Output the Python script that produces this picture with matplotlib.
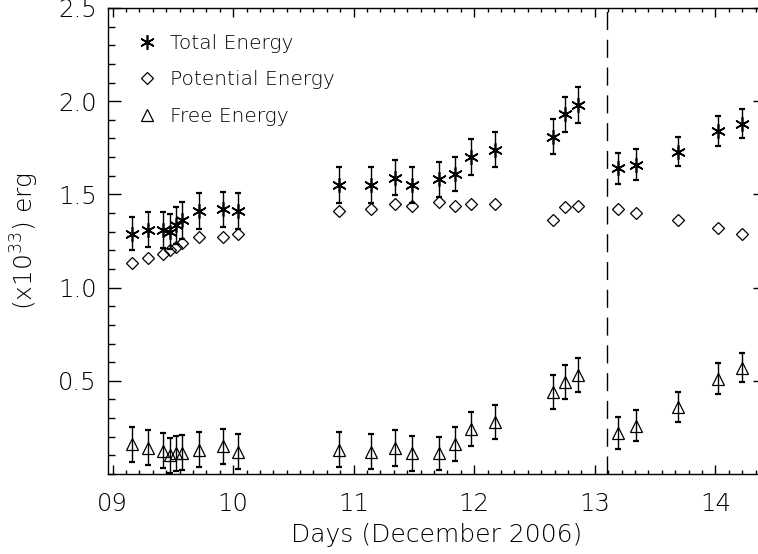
import matplotlib
matplotlib.use("Agg")
import matplotlib.pyplot as plt
from matplotlib.ticker import AutoMinorLocator

plt.rcParams['font.family'] = ['DejaVu Sans']
plt.rcParams['font.weight'] = 'ultralight'
plt.rcParams['axes.labelweight'] = 'ultralight'
plt.rcParams['mathtext.default'] = 'regular'

# data (day of December 2006, energy in 1e33 erg)
days = [9.16, 9.29, 9.42, 9.48, 9.53, 9.58, 9.72, 9.92, 10.04,
        10.88, 11.14, 11.34, 11.48, 11.71, 11.84, 11.97, 12.17,
        12.65, 12.75, 12.86,
        13.19, 13.34, 13.69, 14.02, 14.22]
total = [1.29, 1.31, 1.31, 1.30, 1.335, 1.36, 1.41, 1.42, 1.41,
         1.55, 1.55, 1.59, 1.55, 1.58, 1.61, 1.70, 1.74,
         1.81, 1.93, 1.98,
         1.64, 1.66, 1.73, 1.84, 1.88]
total_err = [0.091, 0.094, 0.098, 0.095, 0.10, 0.097, 0.097, 0.095, 0.095,
             0.095, 0.095, 0.095, 0.095, 0.093, 0.093, 0.095, 0.095,
             0.095, 0.095, 0.095,
             0.084, 0.082, 0.080, 0.081, 0.079]
potential = [1.13, 1.16, 1.18, 1.20, 1.22, 1.24, 1.27, 1.27, 1.29,
             1.41, 1.42, 1.45, 1.44, 1.46, 1.44, 1.45, 1.45,
             1.36, 1.43, 1.44,
             1.42, 1.40, 1.36, 1.32, 1.29]
free = [0.16, 0.14, 0.125, 0.10, 0.11, 0.115, 0.13, 0.15, 0.12,
        0.13, 0.12, 0.14, 0.11, 0.11, 0.16, 0.24, 0.28,
        0.44, 0.495, 0.53,
        0.22, 0.26, 0.36, 0.51, 0.57]
free_err = [0.094, 0.094, 0.094, 0.094, 0.094, 0.094, 0.094, 0.094, 0.094,
            0.095, 0.095, 0.095, 0.095, 0.09, 0.09, 0.09, 0.09,
            0.09, 0.09, 0.09,
            0.085, 0.085, 0.082, 0.083, 0.079]
flare_day = 13.1
xtick_pos = [9, 10, 11, 12, 13, 14]
xtick_labels = ['09', '10', '11', '12', '13', '14']
ytick_pos = [0.5, 1.0, 1.5, 2.0, 2.5]

fig = plt.figure(figsize=(7.58, 5.54), dpi=100)
ax = fig.add_axes([0.1421, 0.1444, 0.8685, 0.8412])

eb = dict(fmt='none', ecolor='black', elinewidth=1.0, capsize=2.4, capthick=1.6)
ax.errorbar(days, total, yerr=total_err, **eb)
ax.errorbar(days, free, yerr=free_err, **eb)

ax.plot(days, total, linestyle='none', marker=(6, 2, 0), markersize=10.5,
        markeredgewidth=1.2, color='black', label='Total Energy')
ax.plot(days, potential, linestyle='none', marker='D', markersize=6,
        markeredgewidth=0.9, markerfacecolor='none', markeredgecolor='black',
        label='Potential Energy')
ax.plot(days, free, linestyle='none', marker='^', markersize=8.5,
        markeredgewidth=0.9, markerfacecolor='none', markeredgecolor='black',
        label='Free Energy')

ax.axvline(flare_day, color='black', linewidth=1.0, dashes=(13, 7))

ax.set_xlim(8.96, 14.42)
ax.set_ylim(0, 2.5)
ax.set_xticks(xtick_pos)
ax.set_xticklabels(xtick_labels)
ax.set_yticks(ytick_pos)
ax.xaxis.set_minor_locator(AutoMinorLocator(9))
ax.yaxis.set_minor_locator(AutoMinorLocator(5))

ax.tick_params(axis='both', which='both', direction='in', top=True, right=True,
               labelsize=17.5, width=1.0, color='black')
ax.tick_params(axis='x', which='major', length=6.5, pad=13)
ax.tick_params(axis='x', which='minor', length=3.2)
ax.tick_params(axis='y', which='major', length=9.4, pad=8)
ax.tick_params(axis='y', which='minor', length=4.7)
for s in ax.spines.values():
    s.set_linewidth(1.0)

ax.set_xlabel('Days (December 2006)', fontsize=18, labelpad=5)
ax.set_ylabel(r'(x10$^{33}$) erg', fontsize=18, labelpad=12)

ax.legend(loc='upper left', bbox_to_anchor=(0.0445, 0.945), frameon=False,
          fontsize=14.5, handlelength=1.0, handletextpad=0.65, labelspacing=0.88,
          borderpad=0, borderaxespad=0, numpoints=1)

fig.savefig('out.png', dpi=100)
